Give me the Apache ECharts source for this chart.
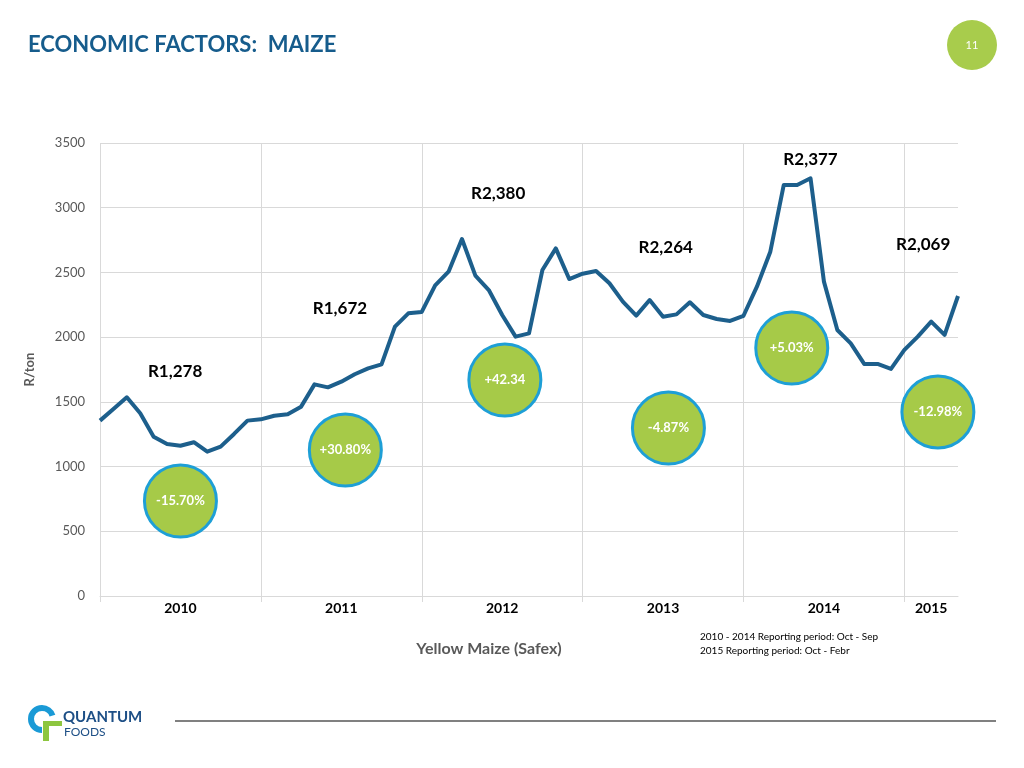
<!DOCTYPE html>
<html><head><meta charset="utf-8">
<script src="https://cdn.jsdelivr.net/npm/echarts@6/dist/echarts.min.js"></script>
<style>html,body{margin:0;padding:0;background:#fff}#c{width:1024px;height:768px}</style>
</head><body><div id="c"></div>
<script>
// ---- data ----
const seasons = ['2010', '2011', '2012', '2013', '2014', '2015'];
const monthsPerSeason = [12, 12, 12, 12, 12, 5];
const monthNames = ['Oct', 'Nov', 'Dec', 'Jan', 'Feb', 'Mar', 'Apr', 'May', 'Jun', 'Jul', 'Aug', 'Sep'];
const prices = [
  1355, 1445, 1535, 1412, 1231, 1174, 1161, 1188, 1115, 1154, 1252, 1355,
  1365, 1393, 1404, 1463, 1635, 1612, 1656, 1713, 1759, 1790, 2081, 2184,
  2195, 2400, 2506, 2758, 2475, 2364, 2171, 2004, 2029, 2519, 2686, 2449,
  2490, 2511, 2416, 2274, 2166, 2287, 2158, 2176, 2269, 2171, 2140, 2125,
  2165, 2390, 2660, 3175, 3175, 3227, 2429, 2055, 1952, 1793, 1793, 1755,
  1901, 2004, 2120, 2017, 2318
];
const yTicks = [0, 500, 1000, 1500, 2000, 2500, 3000, 3500];
// season average annotations (x in month-index units, y in R/ton)
const avgLabels = ['R1,278', 'R1,672', 'R2,380', 'R2,264', 'R2,377', 'R2,069'];
const avgLabelX = [5.6, 17.9, 29.7, 42.2, 53.0, 61.4];
const avgLabelY = [1731, 2225, 3106, 2689, 3369, 2712];
// season change bubbles
const changeLabels = ['-15.70%', '+30.80%', '+42.34', '-4.87%', '+5.03%', '-12.98%'];
const changeX = [6.0, 18.3, 30.2, 42.4, 51.6, 62.5];
const changeY = [734, 1128, 1669, 1298, 1916, 1422];

// ---- derived ----
const categories = [];
const seasonStart = [];
const labelIndex = {};
seasons.forEach((s, si) => {
  const yr = +s;
  seasonStart.push(categories.length);
  const n = monthsPerSeason[si];
  labelIndex[categories.length + Math.floor(n / 2)] = s;
  for (let m = 0; m < n; m++) {
    categories.push(monthNames[m] + ' ' + (m < 3 ? yr - 1 : yr));
  }
});
const isSeasonStart = (i) => seasonStart.indexOf(i) >= 0;

const FONT = 'Lato';
const chart = echarts.init(document.getElementById('c'), null, {renderer: 'canvas'});
chart.setOption({
  backgroundColor: '#ffffff',
  animation: false,
  textStyle: {fontFamily: FONT},
  title: {
    text: 'ECONOMIC FACTORS:  MAIZE',
    left: 28, top: 34, padding: 0,
    textStyle: {fontFamily: FONT, fontWeight: 'bold', fontSize: 22, color: '#165c8c'}
  },
  grid: {left: 100, right: 66, top: 143, bottom: 172, containLabel: false},
  xAxis: [{
    type: 'category',
    data: categories,
    boundaryGap: false,
    axisLine: {show: true, lineStyle: {color: '#d9d9d9', width: 1}},
    axisTick: {show: true, length: 6, interval: (i) => isSeasonStart(i), lineStyle: {color: '#d9d9d9'}},
    splitLine: {show: true, interval: (i) => isSeasonStart(i), lineStyle: {color: '#d9d9d9', width: 1}},
    axisLabel: {
      show: true, interval: (i) => labelIndex[i] !== undefined,
      formatter: (v, i) => labelIndex[i] || '',
      color: '#000', fontWeight: 'bold', fontSize: 14, margin: 5, fontFamily: FONT
    }
  }, {
    type: 'value', min: 0, max: categories.length - 1, show: false
  }],
  yAxis: {
    type: 'value', min: yTicks[0], max: yTicks[yTicks.length - 1], interval: 500,
    name: 'R/ton', nameLocation: 'middle', nameGap: 64, nameRotate: 90,
    nameTextStyle: {color: '#595959', fontWeight: 'bold', fontSize: 13, fontFamily: FONT},
    axisLine: {show: false}, axisTick: {show: false},
    axisLabel: {color: '#595959', fontSize: 13, margin: 15, fontFamily: FONT, formatter: (v) => String(v)},
    splitLine: {lineStyle: {color: '#d9d9d9', width: 1}}
  },
  series: [{
    type: 'line',
    data: prices,
    symbol: 'none',
    lineStyle: {color: '#1d5f8c', width: 4, join: 'round'},
    z: 3
  }, {
    type: 'scatter',
    xAxisIndex: 1,
    data: changeLabels.map((t, i) => ({value: [changeX[i], changeY[i]], name: t})),
    symbol: 'circle', symbolSize: 72,
    itemStyle: {color: '#a6ca48', borderColor: '#1e9fd6', borderWidth: 3, opacity: 1},
    label: {show: true, position: 'inside', formatter: (p) => p.name, color: '#ffffff',
      fontWeight: 'bold', fontSize: 13, fontFamily: FONT},
    emphasis: {disabled: true},
    z: 4
  }, {
    type: 'scatter',
    xAxisIndex: 1,
    data: avgLabels.map((t, i) => ({value: [avgLabelX[i], avgLabelY[i]], name: t})),
    symbol: 'circle', symbolSize: 2,
    itemStyle: {color: 'rgba(255,255,255,0)', opacity: 1},
    label: {show: true, position: 'inside', formatter: (p) => p.name, color: '#000000',
      fontWeight: 'bold', fontSize: 17, fontFamily: FONT, textBorderWidth: 0},
    labelLayout: {hideOverlap: false},
    emphasis: {disabled: true},
    z: 5
  }],
  graphic: [
    {type: 'circle', shape: {cx: 972, cy: 45, r: 25}, style: {fill: '#a8cc4c'}},
    {type: 'text', x: 972, y: 45, style: {text: '11', fill: '#ffffff', font: '11px ' + FONT, align: 'center', verticalAlign: 'middle'}},
    {type: 'text', x: 489, y: 649, style: {text: 'Yellow Maize (Safex)', fill: '#595959', font: 'bold 16px ' + FONT, align: 'center', verticalAlign: 'middle'}},
    {type: 'text', x: 700, y: 637, style: {text: '2010 - 2014 Reporting period: Oct - Sep', fill: '#000000', font: '10px ' + FONT, align: 'left', verticalAlign: 'middle'}},
    {type: 'text', x: 700, y: 651, style: {text: '2015 Reporting period: Oct - Febr', fill: '#000000', font: '10px ' + FONT, align: 'left', verticalAlign: 'middle'}},
    {type: 'line', shape: {x1: 175, y1: 721, x2: 996, y2: 721}, style: {stroke: '#808080', lineWidth: 2}},
    // logo
    {type: 'arc', shape: {cx: 42, cy: 719, r: 11, startAngle: Math.PI * 0.5, endAngle: Math.PI * 1.9, clockwise: true}, style: {stroke: '#1a9ad6', lineWidth: 6, fill: null}},
    {type: 'rect', shape: {x: 44, y: 721, width: 18, height: 5}, style: {fill: '#8dc63f'}},
    {type: 'rect', shape: {x: 43, y: 721, width: 6, height: 20}, style: {fill: '#8dc63f'}},
    {type: 'text', x: 63, y: 717, style: {text: 'QUANTUM', fill: '#1d4f86', font: 'bold 15px ' + FONT, align: 'left', verticalAlign: 'middle'}},
    {type: 'text', x: 64, y: 732, style: {text: 'FOODS', fill: '#1d4f86', font: '12px ' + FONT, align: 'left', verticalAlign: 'middle'}}
  ]
});
</script>
</body></html>
